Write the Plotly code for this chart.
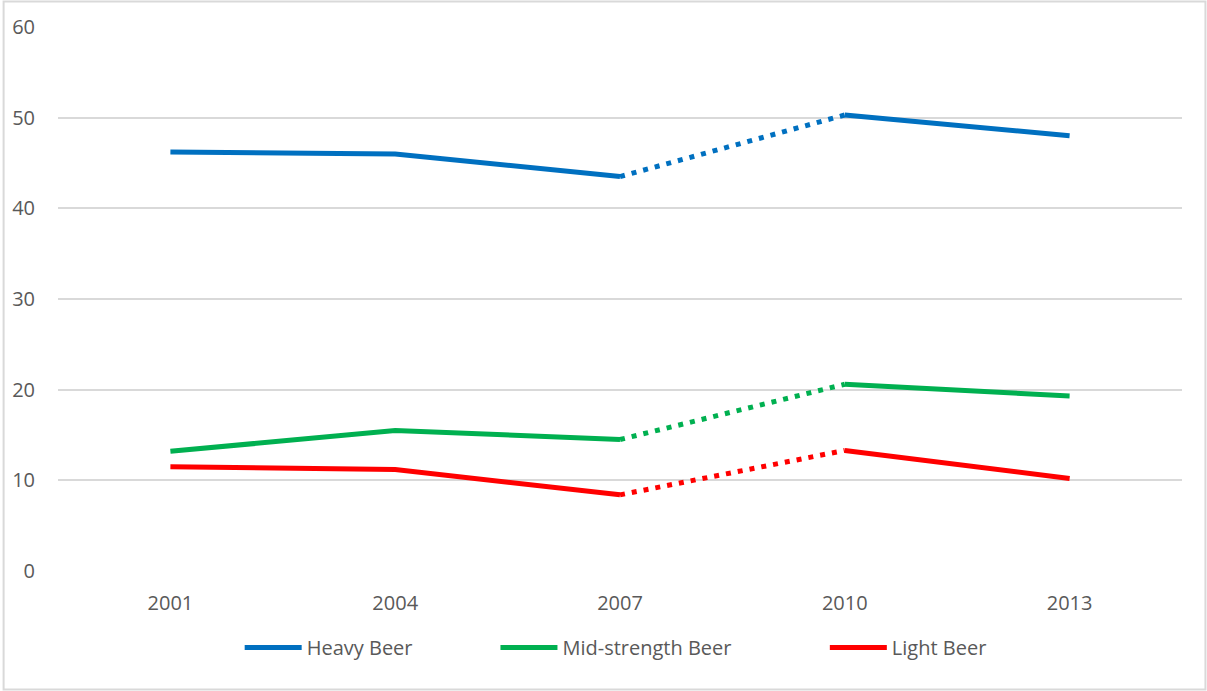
import plotly.graph_objects as go

years = ["2001", "2004", "2007", "2010", "2013"]
heavy = [46.2, 46.0, 43.5, 50.3, 48.0]
mid = [13.2, 15.5, 14.5, 20.6, 19.3]
light = [11.5, 11.2, 8.4, 13.3, 10.2]

NB = "\u00a0"
series = [("Heavy Beer" + NB * 15, heavy, "#0070C0"),
          ("Mid-strength Beer" + NB * 17, mid, "#00B050"),
          ("Light Beer", light, "#FF0000")]

fig = go.Figure()
for name, vals, col in series:
    # solid part 1 (2001-2007)
    fig.add_trace(go.Scatter(x=years[:3], y=vals[:3], mode="lines", name=name,
                             line=dict(color=col, width=5), legendgroup=name,
                             showlegend=True))
    # dotted part (2007-2010)
    fig.add_trace(go.Scatter(x=years[2:4], y=vals[2:4], mode="lines", name=name,
                             line=dict(color=col, width=5, dash="5px,7px"),
                             legendgroup=name, showlegend=False))
    # solid part 2 (2010-2013)
    fig.add_trace(go.Scatter(x=years[3:], y=vals[3:], mode="lines", name=name,
                             line=dict(color=col, width=5), legendgroup=name,
                             showlegend=False))

W, H = 1207, 691
l, r, t, b = 56, 25, 27, 120
pw, ph = W - l - r, H - t - b

fig.update_layout(
    width=W, height=H,
    margin=dict(l=l, r=r, t=t, b=b),
    paper_bgcolor="white", plot_bgcolor="white",
    font=dict(family="Open Sans, Liberation Sans, sans-serif", size=20, color="#595959"),
    showlegend=True,
    legend=dict(orientation="h", x=(238 - l) / pw, xanchor="left", y=-0.105, yanchor="top",
                font=dict(size=20, color="#595959"), itemwidth=57,
                traceorder="normal"),
    xaxis=dict(type="category", categoryorder="array", categoryarray=years,
               range=[-0.5, 4.5], showgrid=False, showline=False, zeroline=False,
               ticks="", ticklabelstandoff=18, tickfont=dict(size=20, color="#595959")),
    yaxis=dict(range=[0, 60], dtick=10, showgrid=True, gridcolor="#D9D9D9", gridwidth=2,
               zeroline=False, showline=False, ticks="", ticklabelstandoff=22,
               tickfont=dict(size=20, color="#595959")),
    shapes=[dict(type="rect", xref="paper", yref="paper",
                 x0=-(l - 1.5) / pw, x1=1 + (r - 1.5) / pw,
                 y0=-(b - 1.5) / ph, y1=1 + (t - 1.5) / ph,
                 line=dict(color="#D9D9D9", width=2), layer="below")],
)

fig.write_html("out.html")
